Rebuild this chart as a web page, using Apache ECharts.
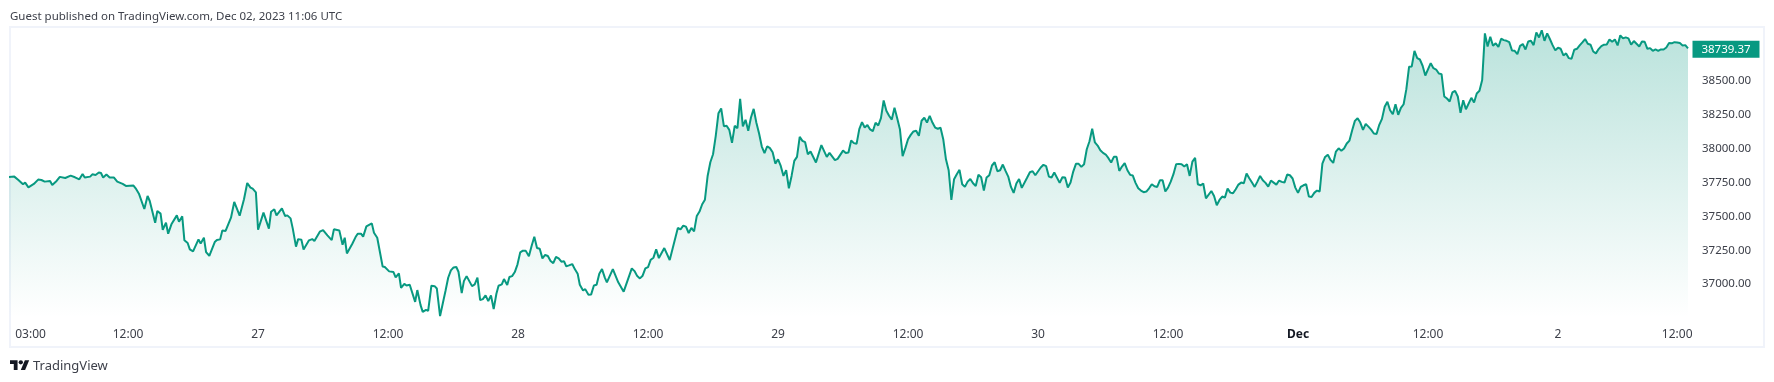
<!DOCTYPE html>
<html>
<head>
<meta charset="utf-8">
<title>TradingView snapshot</title>
<script src="https://cdn.jsdelivr.net/npm/echarts@6/dist/echarts.min.js"></script>
<style>
  html, body { margin: 0; padding: 0; background: #fff; }
  #chart { width: 1774px; height: 382px; }
</style>
</head>
<body>
<div id="chart"></div>
<script>
// hours counted from 27 Nov 00:00
const hours = [
  -23,-22.5,-22.1,-21.7,-21.5,-21.2,-20.7,-20.3,-20,-19.7,-19.2,-19,-18.6,-18.3,-17.8,-17.3,-16.9,-16.5,-16.2,-16,
  -15.5,-15.3,-15,-14.7,-14.5,-14.3,-14,-13.7,-13.3,-13,-12.5,-12.2,-11.5,-11.3,-11,-10.5,-10.2,-10,-9.5,-9.3,
  -9,-8.8,-8.5,-8.3,-8,-7.5,-7.3,-7,-6.8,-6.5,-6.3,-6,-5.5,-5.3,-5,-4.8,-4.5,-4,-3.8,-3.5,
  -3.3,-3,-2.5,-2.2,-1.7,-1.3,-1,-0.7,-0.5,-0.2,0,0.5,1,1.2,1.5,1.7,2.2,2.5,2.7,3,
  3.2,3.5,3.7,4,4.2,4.7,5,5.2,5.7,6,6.4,6.8,7,7.5,7.8,8,8.2,8.7,9,9.2,
  9.5,9.7,10,10.5,10.7,11,11.5,11.7,12.1,12.5,12.7,13,13.2,13.5,13.7,14,14.5,14.7,15,15.2,
  15.5,15.7,16,16.3,16.5,16.8,17.05,17.3,17.55,17.8,18.05,18.3,18.5,18.8,19,19.25,19.5,19.75,20,20.25,
  20.5,20.75,21,21.25,21.5,21.75,22,22.2,22.5,22.7,23,23.2,23.45,23.7,23.95,24.2,24.45,24.7,25,25.25,
  25.5,25.75,26,26.25,26.5,26.75,27,27.25,27.5,27.75,28,28.25,28.45,28.7,29,29.25,29.5,29.7,30,30.2,
  30.5,30.75,31,31.25,31.5,31.75,32,32.2,32.75,33.25,33.75,34.5,34.75,35,35.25,35.5,35.75,36,36.25,36.5,
  36.75,37,37.5,38,38.75,39,39.25,39.5,39.75,40,40.25,40.5,40.75,41,41.25,41.5,41.75,42,42.25,42.5,
  42.75,43,43.25,43.5,43.75,44,44.25,44.5,44.75,45,45.25,45.5,45.75,46,46.25,46.5,46.75,47,47.25,47.5,
  47.75,48,48.25,48.5,48.75,49,49.25,49.5,49.75,50,50.25,50.5,50.75,51,51.5,52,52.5,52.75,53.25,53.5,
  54,54.25,54.5,54.75,55,55.25,55.5,55.75,56,56.25,56.5,56.75,57,57.25,57.5,57.75,58,58.25,58.5,58.75,
  59,59.25,59.5,59.75,60,60.25,60.5,60.75,61,61.25,61.5,61.75,62,62.25,62.5,62.75,63,63.25,63.5,63.75,
  64,64.25,64.5,64.75,65,65.25,65.5,65.75,66,66.25,66.5,66.75,67,67.25,67.5,67.75,68,68.25,68.5,68.75,
  69,69.25,69.5,69.75,70,70.25,70.5,71,71.25,71.5,71.75,72.25,72.5,72.75,73,73.25,73.5,74,74.25,74.5,
  74.75,75,75.25,75.5,75.75,76,76.25,76.5,76.75,77,77.25,77.5,77.75,78,78.25,78.5,78.75,79,79.25,79.5,
  79.75,80,80.25,80.5,80.75,81,81.25,81.5,81.75,82,82.25,82.5,82.75,83,83.25,83.5,83.75,84,84.25,84.5,
  84.75,85,85.25,85.5,85.75,86,86.25,86.5,86.75,87,87.25,87.5,88,88.25,88.5,88.75,89,89.25,89.5,89.75,
  90,90.25,90.5,90.75,91,91.25,91.5,91.75,92,92.25,92.5,92.75,93,93.25,93.5,93.75,94,94.25,94.5,94.75,
  95,95.25,95.5,95.75,96,96.25,96.5,96.75,97,97.25,97.5,97.75,98,98.25,98.5,98.75,99,99.25,99.5,99.75,
  100,100.25,100.5,100.75,101,101.25,101.5,101.75,102,102.25,102.5,102.75,103,103.25,103.5,103.75,104,104.25,104.5,104.75,
  105,105.25,105.5,105.75,106,106.25,106.5,106.75,107,107.25,107.5,107.75,108.25,108.5,108.75,109,109.25,109.5,109.75,110,
  110.25,110.5,110.75,111,111.25,111.5,112,112.25,112.5,112.75,113,113.25,113.5,113.75,114,114.25,114.5,114.75,115,115.25,
  115.5,115.75,116,116.25,116.5,116.75,117,117.25,117.5,117.75,118,118.25,118.5,118.75,119,119.25,119.5,119.75,120,120.25,
  120.5,120.75,121,121.25,121.5,121.75,122,122.25,122.5,122.75,123,123.25,123.5,123.75,124,124.25,124.5,124.75,125,125.25,
  125.5,125.75,126,126.25,126.5,126.75,127,127.25,127.5,127.75,128,128.25,128.5,128.75,129,129.25,129.5,129.75,130,130.25,
  130.5,130.75,131,131.25,131.5,131.75,132
];
const prices = [
  37791,37793,37766,37736,37749,37714,37739,37771,37768,37756,37761,37731,37761,37791,37783,37800,37788,37773,37813,37786,
  37793,37810,37805,37823,37820,37786,37808,37786,37786,37756,37739,37724,37727,37707,37667,37554,37650,37613,37453,37539,
  37520,37401,37453,37372,37441,37507,37460,37500,37323,37303,37256,37241,37330,37300,37342,37236,37209,37310,37325,37330,
  37396,37392,37490,37606,37505,37626,37746,37712,37704,37677,37401,37527,37409,37534,37552,37507,37559,37502,37507,37485,
  37411,37276,37332,37327,37256,37323,37332,37318,37387,37399,37360,37325,37404,37396,37291,37342,37226,37298,37347,37372,
  37372,37350,37426,37448,37379,37342,37130,37126,37094,37089,37049,37079,36973,37002,36990,36995,36869,36956,36845,36795,
  36810,36803,36988,36985,36968,36764,36857,36949,37047,37101,37123,37126,37091,36934,37022,37059,37022,36985,36998,37047,
  36882,36889,36917,36875,36917,36816,36929,36988,36998,37037,36993,37052,37059,37089,37146,37234,37247,37247,37205,37281,
  37350,37266,37261,37190,37215,37207,37170,37155,37200,37190,37165,37168,37131,37138,37148,37109,37077,36995,36953,36963,
  36921,36924,36990,36995,37077,37111,37050,37013,37111,37013,36944,37116,37096,37059,37042,37062,37116,37126,37180,37195,
  37256,37192,37266,37178,37414,37404,37431,37424,37377,37414,37389,37503,37535,37589,37623,37798,37899,37958,38094,38261,
  38296,38165,38168,38138,38042,38168,38150,38367,38163,38212,38131,38229,38293,38190,38111,38015,37966,38017,38003,37973,
  37889,37921,37872,37798,37840,37707,37798,37909,37939,38086,38057,38047,37958,37978,37897,38025,37939,37968,37914,37924,
  37985,37968,37971,38059,38040,38035,38143,38195,38155,38173,38141,38128,38190,38170,38224,38355,38279,38242,38214,38301,
  38224,38143,37944,38003,38069,38101,38126,38131,38094,38205,38227,38192,38242,38192,38155,38146,38153,38069,37921,37840,
  37621,37774,37811,37843,37737,37717,37756,37776,37744,37724,37806,37788,37690,37786,37803,37875,37899,37833,37840,37882,
  37835,37793,37717,37673,37742,37776,37710,37786,37825,37833,37803,37860,37880,37870,37793,37786,37823,37747,37788,37786,
  37712,37749,37830,37887,37887,37865,37884,37995,38054,38146,38045,38022,37988,37968,37956,37929,37897,37939,37939,37835,
  37867,37892,37840,37806,37801,37747,37707,37690,37678,37683,37707,37737,37722,37717,37766,37766,37683,37712,37756,37811,
  37884,37887,37884,37867,37884,37798,37904,37931,37737,37729,37742,37633,37687,37650,37582,37621,37646,37638,37705,37675,
  37670,37700,37734,37749,37744,37816,37781,37749,37717,37756,37798,37766,37747,37719,37764,37749,37734,37764,37754,37749,
  37808,37803,37779,37712,37673,37717,37729,37737,37646,37643,37673,37690,37683,37889,37938,37955,37916,37894,37978,38002,
  37983,38000,38037,38059,38135,38204,38224,38192,38138,38182,38162,38140,38111,38108,38175,38219,38308,38345,38283,38253,
  38327,38249,38300,38327,38438,38603,38606,38721,38667,38657,38611,38539,38630,38593,38583,38554,38549,38384,38369,38347,
  38414,38426,38384,38263,38357,38290,38374,38340,38406,38426,38505,38850,38753,38825,38758,38776,38749,38810,38800,38795,
  38785,38724,38721,38697,38758,38771,38731,38790,38795,38763,38857,38820,38872,38795,38850,38808,38763,38724,38744,38736,
  38687,38702,38667,38662,38729,38736,38761,38783,38808,38773,38766,38716,38702,38734,38756,38766,38768,38805,38788,38805,
  38761,38835,38813,38820,38813,38766,38793,38773,38753,38790,38788,38736,38741,38721,38731,38721,38731,38731,38746,38778,
  38776,38785,38783,38778,38761,38763,38739.37
];
const timeTicks = [-21, -12, 0, 12, 24, 36, 48, 60, 72, 84, 96, 108, 120, 131];
const timeLabels = ["03:00", "12:00", "27", "12:00", "28", "12:00", "29", "12:00", "30", "12:00", "Dec", "12:00", "2", "12:00"];
const priceTicks = [37000, 37250, 37500, 37750, 38000, 38250, 38500];

const font = "Noto Sans";
const lineColor = "#089981";
const textColor = "#3d404a";

const myChart = echarts.init(document.getElementById("chart"), null, { renderer: "canvas" });
const lastIdx = prices.length - 1;

myChart.setOption({
  animation: false,
  backgroundColor: "#fff",
  textStyle: { fontFamily: font },
  grid: { left: 10, right: 86, top: 13, bottom: 64 },
  xAxis: {
    type: "value",
    min: -22.9,
    max: 132,
    splitLine: { show: false },
    axisLine: { show: false },
    axisTick: { show: false },
    axisLabel: {
      customValues: timeTicks,
      margin: 11,
      fontSize: 12,
      color: textColor,
      fontFamily: font,
      hideOverlap: false,
      formatter: function (val) {
        const label = timeLabels[timeTicks.indexOf(val)];
        return label === "Dec" ? "{b|Dec}" : label;
      },
      rich: { b: { fontWeight: "bold", fontSize: 12, color: "#131722", fontFamily: font } },
    },
  },
  yAxis: {
    type: "value",
    position: "right",
    min: 36750,
    max: 39000,
    interval: 250,
    splitLine: { show: false },
    axisLine: { show: false },
    axisTick: { show: false },
    axisLabel: {
      customValues: priceTicks,
      margin: 14,
      align: "left",
      fontSize: 11.5,
      color: textColor,
      fontFamily: font,
      formatter: function (val) {
        return val.toFixed(2);
      },
    },
  },
  series: [
    {
      type: "line",
      data: hours.map((h, i) => [h, prices[i]]),
      symbol: "none",
      lineStyle: { color: lineColor, width: 2 },
      itemStyle: { color: lineColor },
      areaStyle: {
        opacity: 1,
        color: new echarts.graphic.LinearGradient(0, 0, 0, 1, [
          { offset: 0, color: "rgba(8,153,129,0.28)" },
          { offset: 1, color: "rgba(8,153,129,0)" },
        ]),
      },
      markPoint: {
        silent: true,
        symbol: "rect",
        symbolSize: [67, 17],
        symbolOffset: [38, 1],
        itemStyle: { color: lineColor },
        label: {
          show: true,
          position: "inside",
          color: "#fff",
          fontSize: 11.5,
          fontFamily: font,
          formatter: prices[lastIdx].toFixed(2),
        },
        data: [{ coord: [hours[lastIdx], prices[lastIdx]] }],
      },
    },
  ],
  graphic: [
    {
      type: "rect",
      z: 0,
      silent: true,
      shape: { x: 10, y: 27, width: 1754, height: 320 },
      style: { fill: null, stroke: "#f0f3fa", lineWidth: 2 },
    },
    {
      type: "text",
      silent: true,
      x: 10,
      y: 17,
      style: {
        text: "Guest published on TradingView.com, Dec 02, 2023 11:06 UTC",
        fill: "#3d404a",
        font: "11.5px 'Noto Sans'",
        textVerticalAlign: "middle",
      },
    },
    // logo
    {
      type: "group",
      silent: true,
      x: 10,
      y: 358,
      scaleX: 0.54,
      scaleY: 0.54,
      children: [
        { type: "polygon", shape: { points: [[0, 4], [14, 4], [14, 22], [7, 22], [7, 11], [0, 11]] }, style: { fill: "#131722" } },
        { type: "polygon", shape: { points: [[20, 22], [28, 22], [35.5, 4], [27.5, 4]] }, style: { fill: "#131722" } },
        { type: "circle", shape: { cx: 20, cy: 8, r: 4 }, style: { fill: "#131722" } },
      ],
    },
    {
      type: "text",
      silent: true,
      x: 33,
      y: 366,
      style: {
        text: "TradingView",
        fill: "#3d404a",
        font: "13px 'Noto Sans'",
        textVerticalAlign: "middle",
      },
    },
  ],
});
window.addEventListener("resize", () => {
  myChart.resize();
});
</script>
</body>
</html>
